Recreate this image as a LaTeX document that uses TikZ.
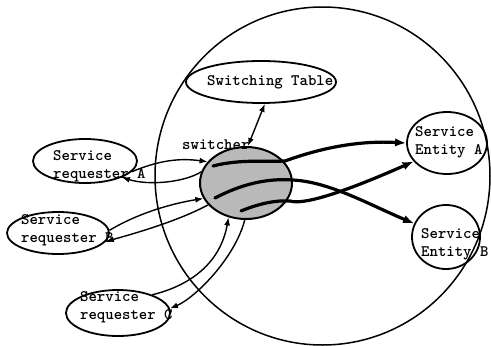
\documentclass[tikz,border=0pt]{standalone}
\usetikzlibrary{shapes.geometric,arrows.meta}
\begin{document}
\begin{tikzpicture}[x=1pt,y=-1pt,
  ell/.style={draw, ellipse, line width=1.8pt, inner sep=0pt},
  thinarr/.style={line width=1.4pt, -{Latex[length=8pt,width=6pt]}},
  thickarr/.style={line width=3.2pt, line cap=round, -{Latex[length=11pt,width=8.5pt]}},
  lbl/.style={font=\fontsize{16}{18}\selectfont\ttfamily\bfseries, anchor=west, align=left, inner sep=0pt}]
\useasboundingbox (0,0) rectangle (491,346);
% outer circle
\node[draw, ellipse, line width=1.5pt, minimum width=335pt, minimum height=338pt, inner sep=0pt] (big) at (322.5,176) {};
% nodes
\node[ell, minimum width=150pt, minimum height=42pt] (tab) at (261,82) {};
\node[ell, fill=gray!55, line width=2pt, minimum width=92pt, minimum height=72pt] (sw) at (246,183) {};
\node[ell, minimum width=104pt, minimum height=44pt] (reqA) at (85,161) {};
\node[ell, minimum width=102pt, minimum height=42pt] (reqB) at (58,233) {};
\node[ell, minimum width=104pt, minimum height=46pt] (reqC) at (118,313) {};
\node[ell, minimum width=80pt, minimum height=62pt] (entA) at (447,143) {};
\node[ell, minimum width=68pt, minimum height=64pt] (entB) at (446,237) {};
% thin connectors
\draw[line width=1.4pt, {Latex[length=8pt,width=6pt]}-{Latex[length=8pt,width=6pt]}] (sw.87) -- (tab.-80);
\draw[thinarr] (reqA.-13) .. controls (160,160) and (180,158) .. (sw.151);
\draw[thinarr] (sw.166) .. controls (185,182) and (150,186) .. (reqA.-24);
\draw[thinarr] (reqB.3) .. controls (140,212) and (175,203) .. (sw.200);
\draw[thinarr] (sw.210) .. controls (180,220) and (140,232) .. (reqB.-10);
\draw[thinarr] (reqC.28) .. controls (200,283) and (222,255) .. (sw.243);
\draw[thinarr] (sw.268) .. controls (235,258) and (195,298) .. (reqC.5);
% thick paths
\coordinate (s1) at (213,166);
\coordinate (s2) at (215,198);
\coordinate (s3) at (241,211);
\draw[thickarr] (s1) .. controls (240,159) and (265,162) .. (285,161) .. controls (310,152) and (350,140) .. (entA.180);
\draw[thickarr] (s2) .. controls (240,185) and (265,178) .. (293,180) .. controls (330,182) and (370,205) .. (entB.157);
\draw[thickarr] (s3) .. controls (258,204) and (275,200) .. (290,201) .. controls (303,205) and (340,194) .. (entA.209);
% labels
\node[lbl] (tTab) at (207,82) {Switching Table};
\node[lbl] (tSw) at (182,145) {switcher};
\node[lbl] (tA) at (53,166) {Service\\requester A};
\node[lbl] (tB) at (21,230) {Service\\requester B};
\node[lbl] (tC) at (80,307) {Service\\requester C};
\node[lbl] (tEA) at (415,142) {Service\\Entity A};
\node[lbl] (tEB) at (421,244) {Service\\Entity B};
\end{tikzpicture}
\end{document}
